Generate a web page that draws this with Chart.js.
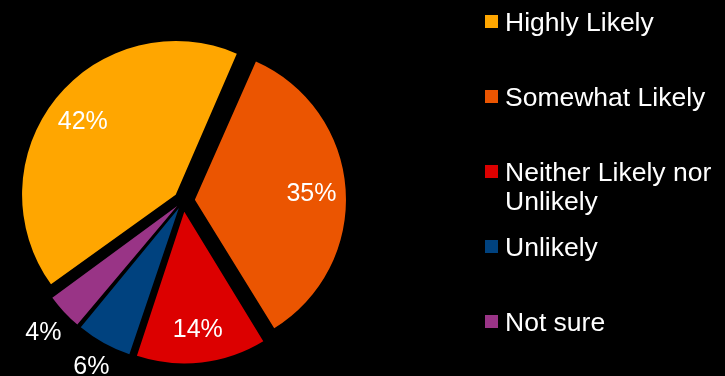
<!DOCTYPE html>
<html>
<head>
<meta charset="utf-8">
<script src="https://cdn.jsdelivr.net/npm/chart.js@4.4.1/dist/chart.umd.min.js"></script>
<style>
  html, body { margin: 0; padding: 0; background: #000; }
  #wrap { width: 725px; height: 376px; }
</style>
</head>
<body>
<div id="wrap"><canvas id="pie" width="725" height="376"></canvas></div>
<script>
// Survey answers and their shares (percent)
const categories = ['Highly Likely', 'Somewhat Likely', 'Neither Likely nor Unlikely', 'Unlikely', 'Not sure'];
const shares = [42, 35, 14, 6, 4];
const sliceColors = ['#FFA600', '#EB5501', '#DC0000', '#00427F', '#993486'];

const EXPLODE = 14;          // distance every slice is pulled out from the centre (px)
const RADIUS = 149;
const FONT = '"Liberation Sans", Arial, sans-serif';

const total = shares.reduce((a, b) => a + b, 0);

// Chart.js moves an arc by offset/4 * (2 - sin(circumference)); invert that so
// every slice is pulled out by the same distance.
function sliceOffset(i) {
  const circ = 2 * Math.PI * shares[i] / total;
  return 4 * EXPLODE / (2 - Math.sin(Math.min(Math.PI, circ)));
}

// Percent labels: inside the big slices, just outside the thin ones
const percentLabels = {
  id: 'percentLabels',
  afterDatasetsDraw(chart) {
    const ctx = chart.ctx;
    const meta = chart.getDatasetMeta(0);
    ctx.save();
    ctx.font = '25px ' + FONT;
    ctx.fillStyle = '#FFFFFF';
    ctx.textAlign = 'center';
    ctx.textBaseline = 'alphabetic';
    meta.data.forEach((arc, i) => {
      const mid = (arc.startAngle + arc.endAngle) / 2;
      const dx = Math.cos(mid), dy = Math.sin(mid);
      const cx = arc.x + dx * EXPLODE, cy = arc.y + dy * EXPLODE;
      const text = shares[i] + '%';
      let dist;
      if (shares[i] >= 10) {
        dist = arc.outerRadius * 0.77;
      } else {
        const w = ctx.measureText(text).width;
        const h = 18;
        dist = arc.outerRadius + 9 + Math.abs(dx) * w / 2 + Math.abs(dy) * h / 2;
      }
      const x = cx + dx * dist, y = cy + dy * dist;
      ctx.fillText(text, x, y + 9);
    });
    ctx.restore();
  }
};

// Legend on the right, wrapping long entries onto a second line
const sideLegend = {
  id: 'sideLegend',
  afterDraw(chart) {
    const ctx = chart.ctx;
    const ds = chart.data.datasets[0];
    const boxX = 485, textX = 505, firstBase = 31, step = 75, lineH = 29.3;
    const maxW = chart.width - textX - 2;
    ctx.save();
    ctx.font = '26.5px ' + FONT;
    ctx.textAlign = 'left';
    ctx.textBaseline = 'alphabetic';
    chart.data.labels.forEach((label, i) => {
      const base = firstBase + step * i;
      ctx.fillStyle = ds.backgroundColor[i];
      ctx.fillRect(boxX, base - 16, 13, 13);
      // word wrap
      const words = label.split(' ');
      const lines = [];
      let cur = '';
      words.forEach(wd => {
        const t = cur ? cur + ' ' + wd : wd;
        if (cur && ctx.measureText(t).width > maxW) { lines.push(cur); cur = wd; }
        else cur = t;
      });
      lines.push(cur);
      ctx.fillStyle = '#FFFFFF';
      lines.forEach((ln, k) => ctx.fillText(ln, textX, base + k * lineH));
    });
    ctx.restore();
  }
};

new Chart(document.getElementById('pie'), {
  type: 'pie',
  data: {
    labels: categories,
    datasets: [{
      data: shares,
      backgroundColor: sliceColors,
      borderWidth: 0,
      offset: (c) => sliceOffset(c.dataIndex),
      hoverOffset: 0
    }]
  },
  options: {
    responsive: false,
    devicePixelRatio: 1,
    animation: false,
    events: [],
    rotation: 234,
    radius: RADIUS,
    layout: { padding: { left: 0, right: 359, top: 25, bottom: 0 } },
    plugins: {
      legend: { display: false },
      tooltip: { enabled: false }
    }
  },
  plugins: [percentLabels, sideLegend]
});
</script>
</body>
</html>
